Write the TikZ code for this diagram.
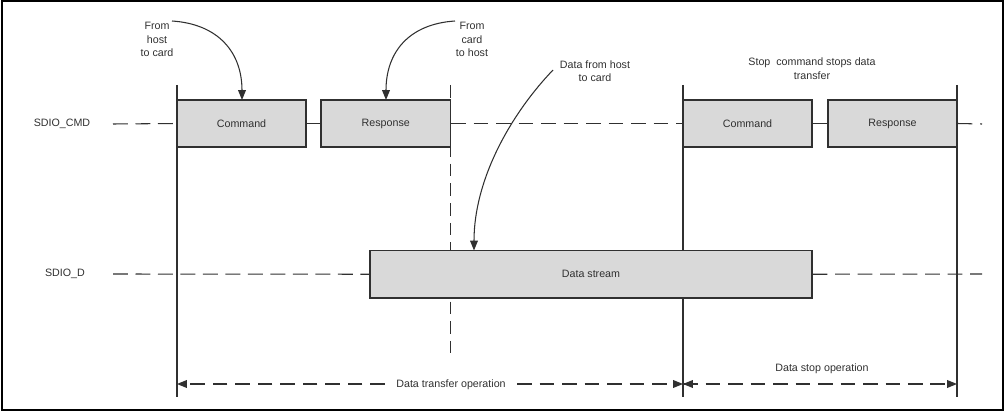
\documentclass[tikz,border=0pt]{standalone}
\usepackage{fontspec}
\setmainfont{Liberation Sans}
\usetikzlibrary{arrows.meta,fit}
\definecolor{boxfill}{HTML}{D9D9D9}
\definecolor{ink}{HTML}{303030}
\tikzset{
  every node/.style={font=\fontsize{7.6pt}{9.6pt}\selectfont, text=ink},
  box/.style={draw=ink, fill=boxfill, line width=0.8pt, inner sep=0pt},
  wire/.style={draw=ink, line width=0.75pt},
  dwire/.style={wire, dash pattern=on 10.5pt off 5.5pt},
  vdash/.style={wire, dash pattern=on 9pt off 5pt},
  tip/.style={-{Triangle[length=7pt,width=5.5pt]}},
  lbl/.style={align=center, inner sep=0pt},
}
\begin{document}
\begin{tikzpicture}[x=0.025cm,y=-0.025cm]
\useasboundingbox (0,0) rectangle (1008,413);
\draw[black, line width=0.9pt] (2,1) rectangle (1003,410);

% coordinates
\coordinate (v1t) at (177,85); \coordinate (v1b) at (177,397);
\coordinate (v2t) at (450.5,85); \coordinate (v2b) at (450.5,353);
\coordinate (v3t) at (683,85); \coordinate (v3b) at (683,397);
\coordinate (v4t) at (957,85); \coordinate (v4b) at (957,397);
\coordinate (cs) at (113,124); \coordinate (ce) at (982,124);
\coordinate (ds) at (113,274); \coordinate (de) at (982,274);

% vertical lines
\draw[wire] (v1t) -- (v1b);
\draw[vdash] (v2t) -- (v2b);
\draw[wire] (v3t) -- (v3b);
\draw[wire] (v4t) -- (v4b);

% signal labels
\node[lbl] (lcmd) at (62,124) {SDIO\_CMD};
\node[lbl] (ld) at (65,274) {SDIO\_D};

% boxes
\node[box, fit={(177,100)(306,147)}] (cmd1) {};
\node[box, fit={(321,100)(450.5,147)}] (rsp1) {};
\node[box, fit={(683,100)(812,147)}] (cmd2) {};
\node[box, fit={(828,100)(957,147)}] (rsp2) {};
\node[box, fit={(370,250.5)(812,298)}] (data) {};
\node[lbl] (tcmd1) at (cmd1.center) {Command};
\node[lbl] (trsp1) at (rsp1.center) {Response};
\node[lbl] (tcmd2) at (cmd2.center) {Command};
\node[lbl] (trsp2) at (rsp2.center) {Response};
\node[lbl] (tdata) at (data.center) {Data stream};

% horizontal lines
\draw[dwire] (cs) -- (cmd1.west);
\draw[wire] (cmd1.east) -- (rsp1.west);
\draw[dwire] (rsp1.east) -- (cmd2.west);
\draw[wire] (cmd2.east) -- (rsp2.west);
\draw[dwire] (rsp2.east) -- (ce);
\draw[dwire] (ds) -- (data.west);
\draw[dwire] (data.east) -- (de);

% annotations
\node[lbl] (a1) at (157,39.5) {From\\host\\to card};
\node[lbl] (a2) at (472,39.5) {From\\card\\to host};
\node[lbl] (a3) at (595,71) {Data from host\\to card};
\node[lbl] (a4) at (812,68.5) {Stop\ \ command stops data\\transfer};

\coordinate (s1) at (172,21); \coordinate (e1) at (242,100);
\coordinate (s2) at (455,21); \coordinate (e2) at (386,100);
\coordinate (s3) at (553,70); \coordinate (e3) at (474,250.5);
\draw[wire, tip] (s1) .. controls (218,24) and (242,52) .. (e1);
\draw[wire, tip] (s2) .. controls (409,24) and (386,52) .. (e2);
\draw[wire, tip] (s3) .. controls (510,115) and (474,180) .. (e3);

% bottom arrows
\node[lbl] (dt) at (451,384.5) {Data transfer operation};
\node[lbl] (dsop) at (822,369) {Data stop operation};
\coordinate (b1) at (177,384); \coordinate (b2) at (683,384); \coordinate (b3) at (957,384);
\draw[dwire, tip] ([xshift=-8pt]dt.west |- b1) -- (b1);
\draw[dwire, tip] ([xshift=8pt]dt.east |- b1) -- (b2);
\draw[dwire, tip] (b2) -- (b3);
\draw[wire, tip] ([xshift=2pt]b2) -- (b2);
\end{tikzpicture}
\end{document}
